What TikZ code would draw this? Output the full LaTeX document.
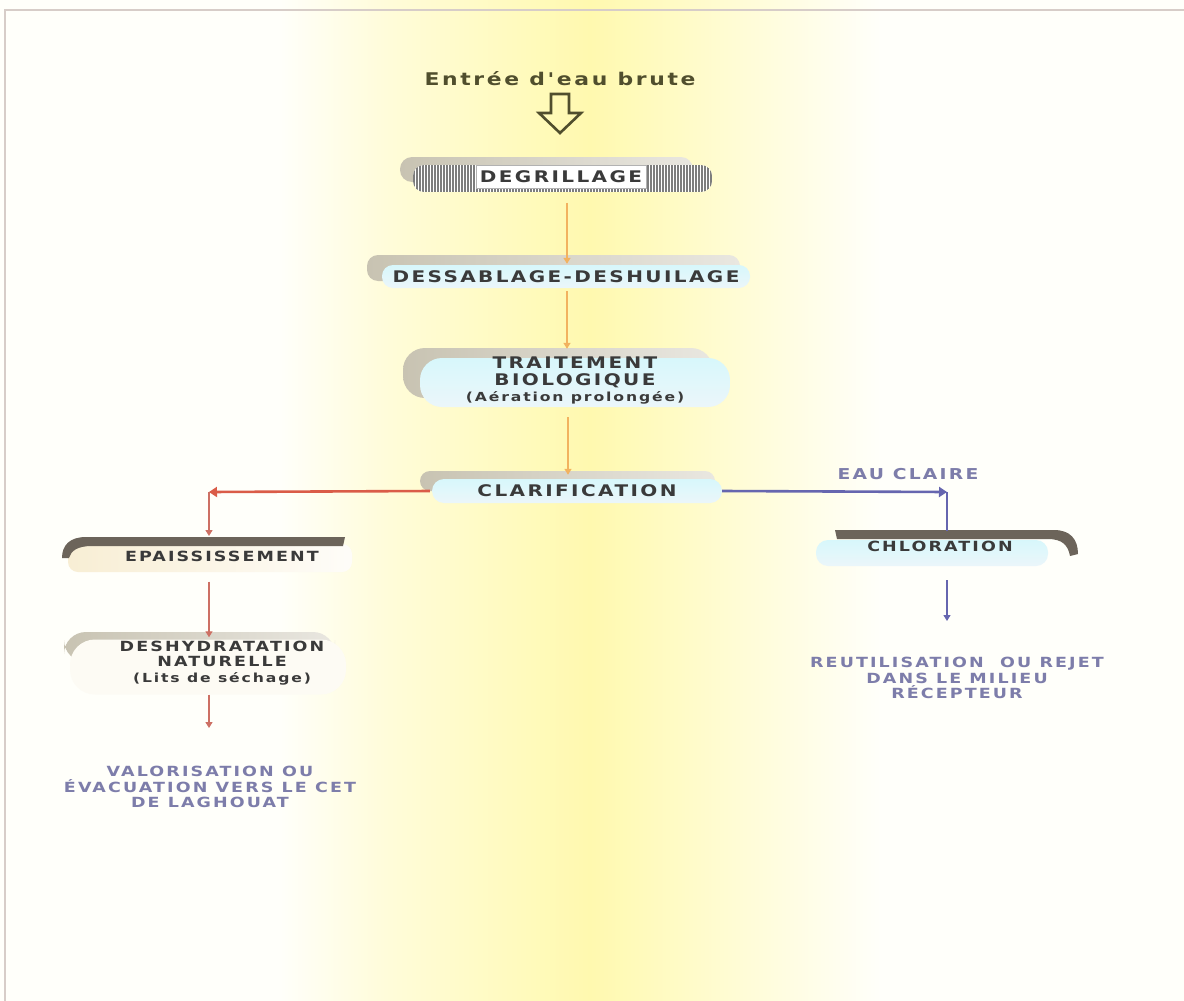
\documentclass[tikz,border=0pt]{standalone}
\usepackage{fontspec}
\setmainfont{DejaVu Sans}
\newfontfamily\lblfont{DejaVu Sans}[FakeStretch=1.25, LetterSpace=15]
\usetikzlibrary{arrows.meta,calc}
\pgfdeclarelayer{back}
\pgfdeclarelayer{deco}
\pgfsetlayers{back,deco,main}
\definecolor{bgyel}{RGB}{255,249,175}
\definecolor{bgpale}{RGB}{255,252,218}
\definecolor{txtgray}{RGB}{58,58,58}
\definecolor{olivetxt}{RGB}{80,78,45}
\definecolor{shgray}{RGB}{200,195,178}
\definecolor{boxblue}{RGB}{222,240,247}
\definecolor{oarr}{RGB}{242,178,95}
\definecolor{rarr}{RGB}{218,92,72}
\definecolor{rarrthin}{RGB}{205,112,100}
\definecolor{barr}{RGB}{102,102,175}
\definecolor{purptxt}{RGB}{125,125,170}
\definecolor{darkbar}{RGB}{108,100,90}
\definecolor{cream}{RGB}{248,238,212}
\definecolor{borderc}{RGB}{215,205,200}
\definecolor{stripe}{RGB}{125,125,125}
\tikzset{
  lbl/.style={font=\lblfont\bfseries\fontsize{16}{16.5}\selectfont, text=txtgray, inner sep=0pt, align=center},
  lbls/.style={font=\lblfont\bfseries\fontsize{14}{15.5}\selectfont, text=txtgray, inner sep=0pt, align=center},
  outtxt/.style={font=\lblfont\bfseries\fontsize{14}{15.5}\selectfont, text=purptxt, inner sep=0pt, align=center},
  oarrow/.style={draw=oarr, line width=1.4pt, -{Triangle[width=7pt,length=6pt]}},
  rthick/.style={draw=rarr, line width=2.6pt, -{Triangle[width=10pt,length=8pt]}},
  rthin/.style={draw=rarrthin, line width=1.3pt, -{Triangle[width=7pt,length=6pt]}},
  bthick/.style={draw=barr, line width=2.6pt, -{Triangle[width=10pt,length=8pt]}},
  bthin/.style={draw=barr, line width=1.3pt},
  bthinarr/.style={draw=barr, line width=1.3pt, -{Triangle[width=7pt,length=6pt]}},
  shadowbox/.style={left color=shgray, right color=shgray!40!white},
  bluebox/.style={top color=boxblue!85!cyan!60!white, bottom color=boxblue!60!white},
}
\begin{document}
\begin{tikzpicture}[x=1pt,y=-1pt]
\useasboundingbox (0,0) rectangle (1184,1001);
% ---------------- background
\begin{pgfonlayer}{back}
\fill[white!98!yellow] (0,0) rectangle (1184,1001);
\shade[left color=white!98!yellow, right color=bgpale] (280,0) rectangle (385,1001);
\shade[left color=bgpale, right color=bgyel] (385,0) rectangle (590,1001);
\shade[left color=bgyel, right color=white!98!yellow] (590,0) rectangle (880,1001);
\draw[borderc, line width=1.5pt] (5,1001) -- (5,10) -- (1184,10);
\end{pgfonlayer}

% ---------------- title and inlet arrow
\node[lbl, text=olivetxt, font=\lblfont\bfseries\fontsize{17.5}{18}\selectfont] (title) at (560,79) {Entrée d'eau brute};
\draw[olivetxt, line width=2.6pt, line join=miter]
  (551,94) -- (569,94) -- (569,113) -- (581,113) -- (560,133) -- (539,113) -- (551,113) -- cycle;

% ---------------- DEGRILLAGE
\begin{pgfonlayer}{deco}
\shade[shadowbox, rounded corners=12pt] (400,157) rectangle (693,182);
\begin{scope}
  \clip[rounded corners=11pt] (413,165) rectangle (712,192);
  \fill[white] (413,165) rectangle (712,192);
  \foreach \xx in {414,417,...,712} \draw[stripe, line width=1.5pt] (\xx,165) -- (\xx,192);
\end{scope}
\end{pgfonlayer}
\node[lbl, fill=white, draw=gray!60, line width=0.6pt, minimum width=170pt, minimum height=23pt] (deg) at (561,177) {DEGRILLAGE};

% ---------------- DESSABLAGE-DESHUILAGE
\begin{pgfonlayer}{deco}
\shade[shadowbox, rounded corners=11pt] (367,255) rectangle (740,281);
\end{pgfonlayer}
\node[lbl, bluebox, rounded corners=11pt, minimum width=368pt, minimum height=23pt] (des) at (566,276.5) {DESSABLAGE-DESHUILAGE};

% ---------------- TRAITEMENT BIOLOGIQUE
\begin{pgfonlayer}{deco}
\shade[shadowbox, rounded corners=22pt] (403,348) rectangle (713,398);
\end{pgfonlayer}
\node[bluebox, rounded corners=22pt, minimum width=310pt, minimum height=49pt, inner sep=0pt] (trtbox) at (575,382.5) {};
\node[lbl] (trt) at (575,381) {TRAITEMENT\\BIOLOGIQUE\\{\fontsize{12.5}{14}\selectfont(Aération prolongée)}};

% ---------------- CLARIFICATION
\begin{pgfonlayer}{deco}
\shade[shadowbox, rounded corners=10pt] (420,471) rectangle (715,491);
\end{pgfonlayer}
\node[lbl, bluebox, rounded corners=12pt, minimum width=290pt, minimum height=24pt] (cla) at (577,491) {CLARIFICATION};

% ---------------- EPAISSISSEMENT
\begin{pgfonlayer}{deco}
\shade[left color=cream, right color=cream!15!white, rounded corners=10pt] (68,544) rectangle (352,572);
\fill[darkbar] (345,537) -- (86,537) .. controls (70,537) and (62,545) .. (62,558)
  -- (69,558) .. controls (71,551) and (77,546) .. (92,546) -- (343,546) -- cycle;
\end{pgfonlayer}
\node[lbls] (epa) at (222,556) {EPAISSISSEMENT};
\coordinate (epatop) at (209,536);

% ---------------- DESHYDRATATION
\begin{pgfonlayer}{deco}
\shade[shadowbox, rounded corners=22pt] (64,632) rectangle (335,662);
\end{pgfonlayer}
\node[fill=white!75!cream, rounded corners=25pt, minimum width=276pt, minimum height=55pt, inner sep=0pt] (dshbox) at (208,667) {};
\node[lbls] (dsh) at (222,663) {DESHYDRATATION\\NATURELLE\\{\fontsize{12.5}{14}\selectfont(Lits de séchage)}};

% ---------------- CHLORATION
\begin{pgfonlayer}{deco}
\fill[darkbar] (835,530) -- (1054,530) .. controls (1070,530) and (1078,539) .. (1078,554)
  -- (1070,556) .. controls (1068,545) and (1062,539) .. (1048,539) -- (837,539) -- cycle;
\end{pgfonlayer}
\node[bluebox, rounded corners=12pt, minimum width=232pt, minimum height=26pt, inner sep=0pt] (chlbox) at (932,553) {};
\node[lbls] (chl) at (940,546) {CHLORATION};
\coordinate (chltop) at (947,531);

% ---------------- outputs
\node[outtxt] (val) at (210,787) {VALORISATION OU\\ÉVACUATION VERS LE CET\\DE LAGHOUAT};
\node[outtxt] (reu) at (957,678) {REUTILISATION\ \ OU REJET\\DANS LE MILIEU\\RÉCEPTEUR};
\node[outtxt, font=\lblfont\bfseries\fontsize{15}{16}\selectfont] (eau) at (908,474) {EAU CLAIRE};

% ---------------- connectors
\coordinate (redc) at (209,492);
\coordinate (bluec) at (947,492);
\draw[oarrow, shorten <=14pt] ($(deg.south)+(6,0)$) -- ($(des.north)+(1,-1)$) ;
\draw[oarrow, shorten <=3pt, shorten >=9pt] ($(des.south)+(1,0)$) -- ($(trtbox.north)+(-8,0)$);
\draw[oarrow, shorten <=10pt, shorten >=4pt] ($(trtbox.south)+(-7,0)$) -- ($(cla.north)+(-9,0)$);
\draw[rthick, shorten <=2pt] (cla.west) -- (redc);
\draw[rthin] (redc) -- (epatop);
\draw[bthick] (cla.east) -- (bluec);
\draw[bthin] (bluec) -- (chltop);
\draw[rthin, shorten <=20pt, shorten >=2pt] (epa.south -| epatop) -- (dshbox.north -| epatop);
\draw[rthin, shorten >=38pt] (dshbox.south -| epatop) -- (val.north -| epatop);
\draw[bthinarr, shorten <=14pt, shorten >=36pt] (chlbox.south -| chltop) -- (reu.north -| chltop);
\end{tikzpicture}
\end{document}
